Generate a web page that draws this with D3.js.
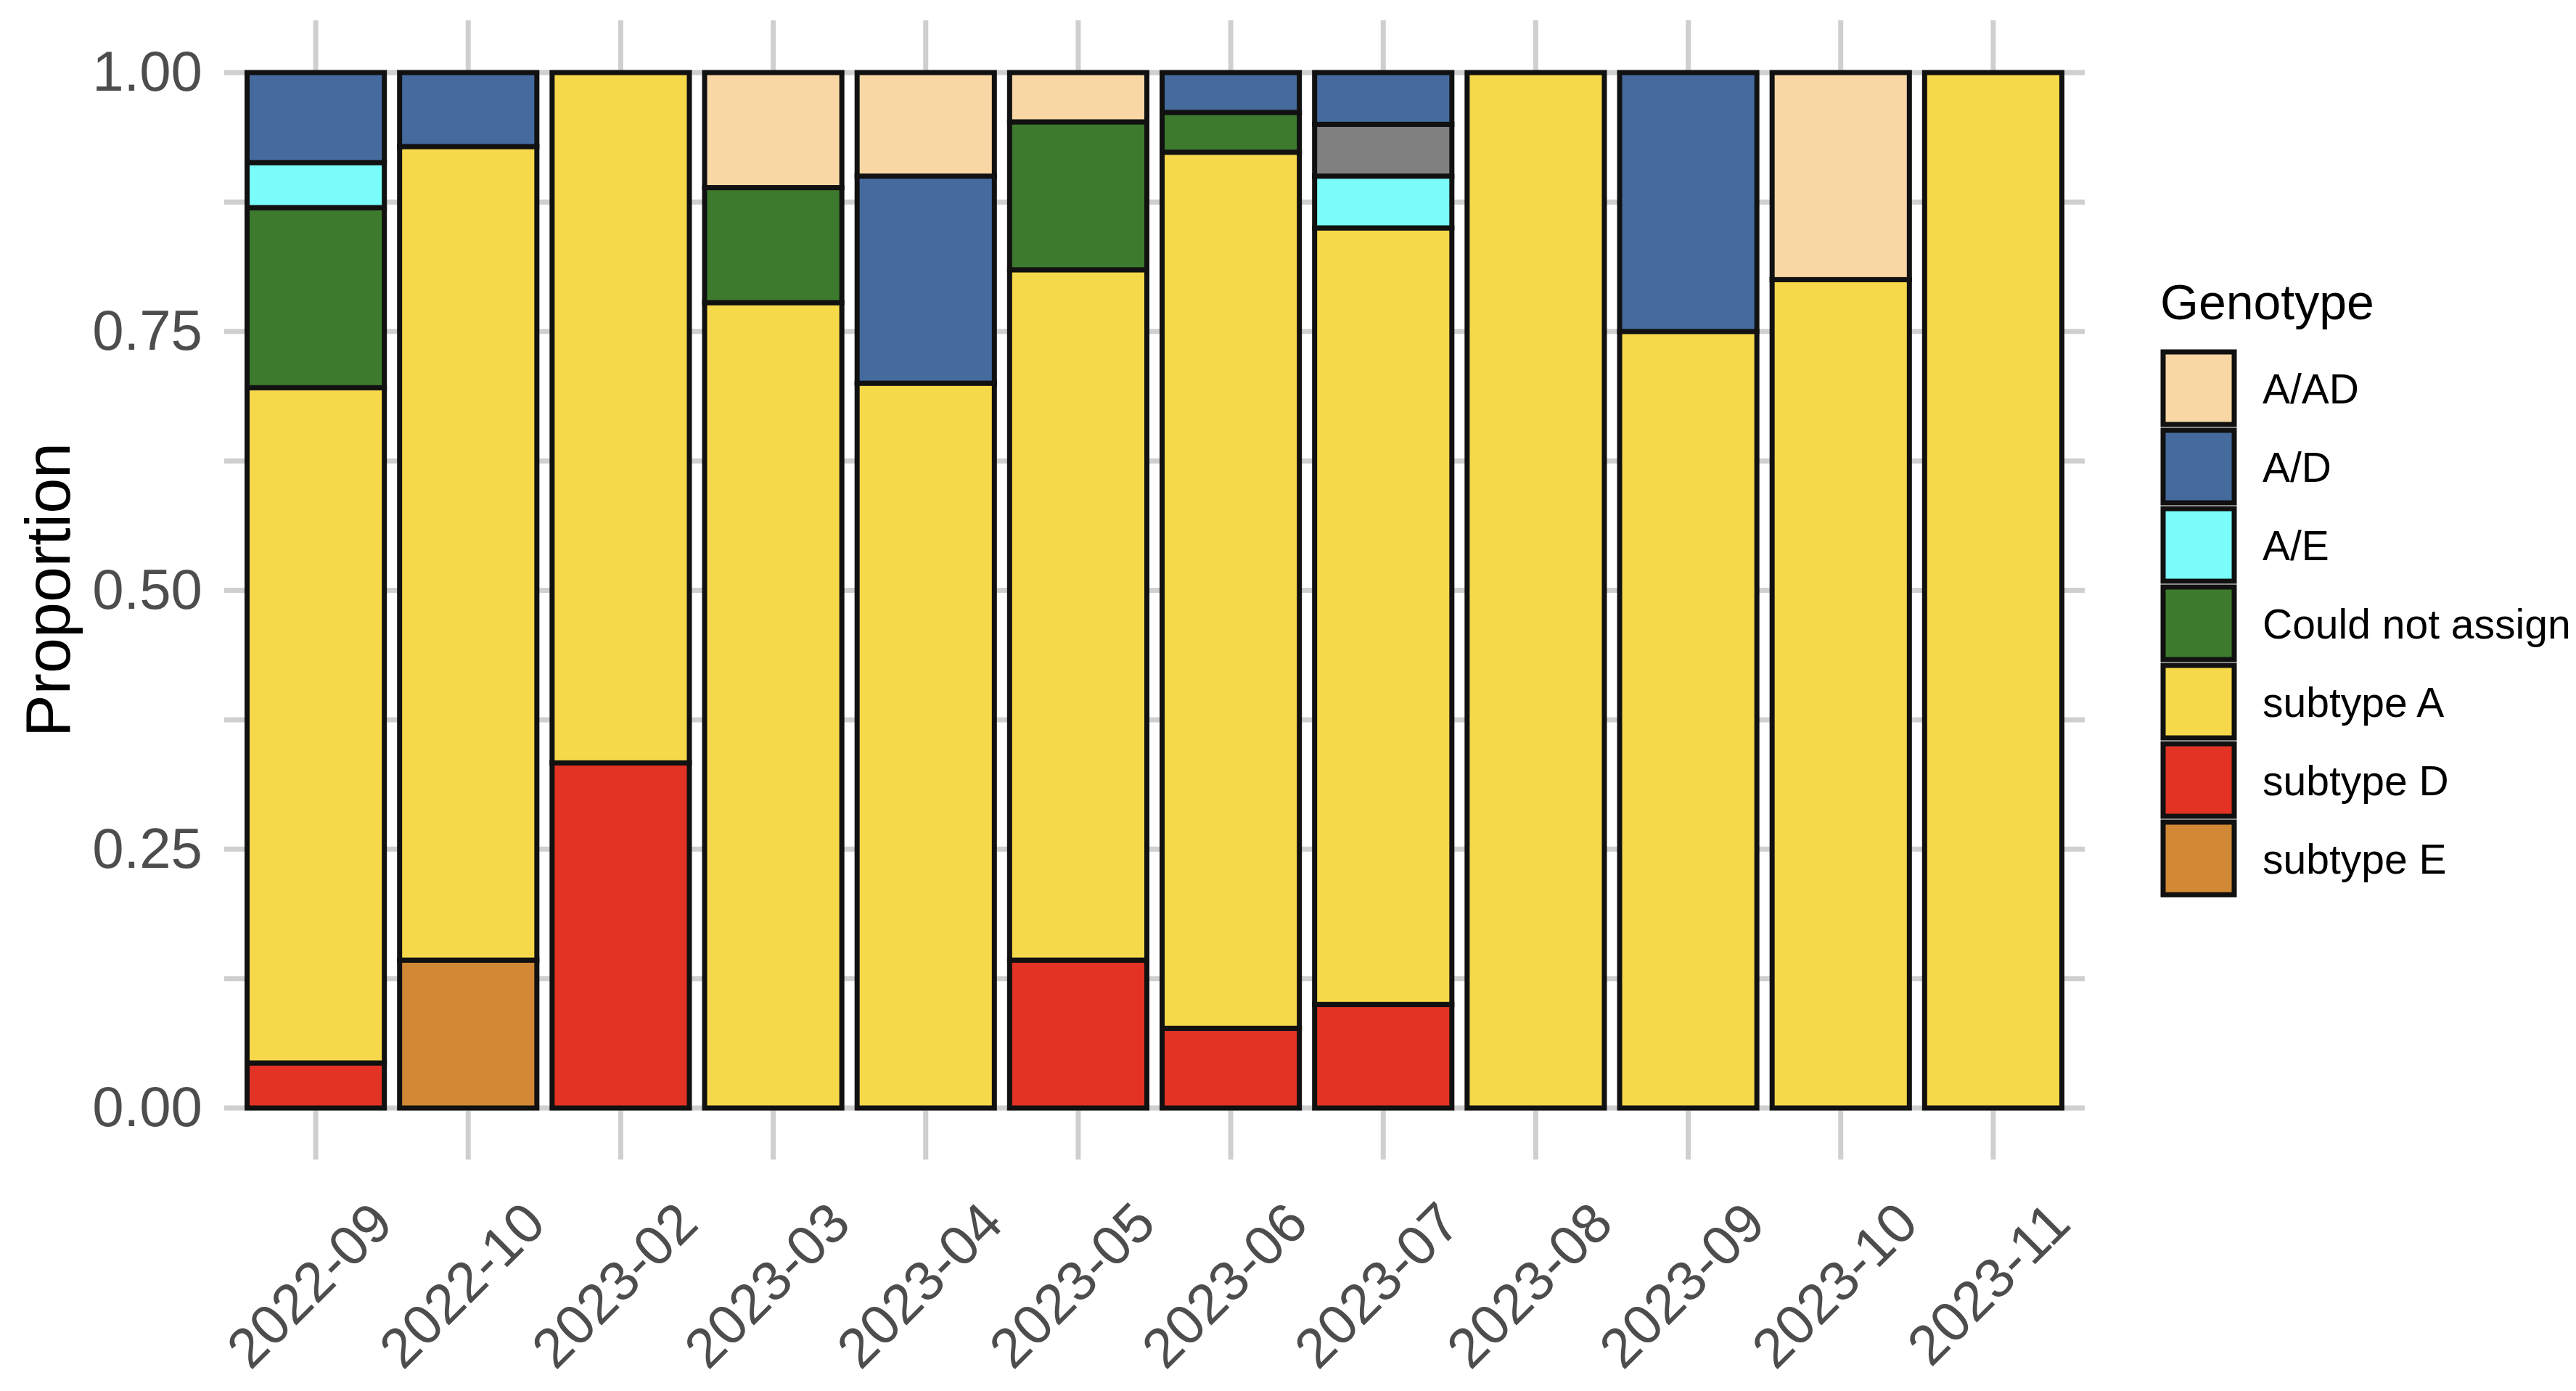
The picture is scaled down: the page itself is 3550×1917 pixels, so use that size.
<!DOCTYPE html>
<html>
<head>
  <meta charset="utf-8">
  <title>Genotype proportion by month</title>
  <style>
    body { margin: 0; background: #fff; }
    text { font-family: "Liberation Sans", Arial, Helvetica, sans-serif; }
  </style>
  <script src="https://cdn.jsdelivr.net/npm/d3@7"></script>
</head>
<body>
<script>
  // Months on the x axis
  const months = ["2022-09", "2022-10", "2023-02", "2023-03", "2023-04", "2023-05",
                  "2023-06", "2023-07", "2023-08", "2023-09", "2023-10", "2023-11"];

  const aAD       = [0, 0, 0, 1, 1, 1, 0, 0, 0, 0, 1, 0];
  const aD        = [2, 1, 0, 0, 2, 0, 1, 1, 0, 1, 0, 0];
  const unlisted  = [0, 0, 0, 0, 0, 0, 0, 1, 0, 0, 0, 0];   // grey segment, no legend entry
  const aE        = [1, 0, 0, 0, 0, 0, 0, 1, 0, 0, 0, 0];
  const couldNot  = [4, 0, 0, 1, 0, 3, 1, 0, 0, 0, 0, 0];
  const subtypeA  = [15, 11, 2, 7, 7, 14, 22, 15, 1, 3, 4, 1];
  const subtypeD  = [1, 0, 1, 0, 0, 3, 2, 2, 0, 0, 0, 0];
  const subtypeE  = [0, 2, 0, 0, 0, 0, 0, 0, 0, 0, 0, 0];

  // Legend order (top to bottom) and colours
  const legendKeys = ["A/AD", "A/D", "A/E", "Could not assign", "subtype A", "subtype D", "subtype E"];
  const colours = {
    "A/AD": "#f8d7a5",
    "A/D": "#456b9e",
    "other": "#808080",
    "A/E": "#7afcfb",
    "Could not assign": "#3d7a2d",
    "subtype A": "#f6d84b",
    "subtype D": "#e23325",
    "subtype E": "#d28935"
  };

  const yTicks = [0, 0.25, 0.5, 0.75, 1];
  const yMinor = [0.125, 0.375, 0.625, 0.875];

  // Stack order from the bottom up
  const stackKeys = ["subtype E", "subtype D", "subtype A", "Could not assign", "A/E", "other", "A/D", "A/AD"];
  const series = {
    "subtype E": subtypeE, "subtype D": subtypeD, "subtype A": subtypeA,
    "Could not assign": couldNot, "A/E": aE, "other": unlisted, "A/D": aD, "A/AD": aAD
  };
  const table = months.map((m, i) => {
    const row = {month: m};
    stackKeys.forEach(k => row[k] = series[k][i]);
    return row;
  });

  const width = 3550, height = 1917;
  const panel = {left: 309, right: 2873, top: 28, bottom: 1598};

  const svg = d3.select("body").append("svg")
      .attr("width", width)
      .attr("height", height);

  // Scales
  const x = d3.scaleBand()
      .domain(months)
      .range([panel.left, panel.right])
      .paddingInner(0.1)
      .paddingOuter(0.15);
  const y = d3.scaleLinear().domain([0, 1]).range([1527, 100]);

  // Grid lines
  const grid = svg.append("g").attr("id", "grid")
      .attr("stroke", "#cfcfcf").attr("stroke-width", 7);
  grid.selectAll(".hmajor").data(yTicks.concat(yMinor)).enter().append("line")
      .attr("x1", panel.left).attr("x2", panel.right)
      .attr("y1", d => y(d)).attr("y2", d => y(d));
  grid.selectAll(".vmajor").data(months).enter().append("line")
      .attr("x1", d => x(d) + x.bandwidth() / 2).attr("x2", d => x(d) + x.bandwidth() / 2)
      .attr("y1", panel.top).attr("y2", panel.bottom);

  // Stacked bars, normalised to proportions
  const stacked = d3.stack().keys(stackKeys).offset(d3.stackOffsetExpand)(table);

  const bars = svg.append("g").attr("id", "bars");
  stacked.forEach(layer => {
    bars.append("g")
        .attr("fill", colours[layer.key])
      .selectAll("rect")
      .data(layer.filter(d => d[1] - d[0] > 0))
      .enter().append("rect")
        .attr("x", d => x(d.data.month))
        .attr("width", x.bandwidth())
        .attr("y", d => y(d[1]))
        .attr("height", d => y(d[0]) - y(d[1]))
        .attr("stroke", "#111")
        .attr("stroke-width", 7);
  });

  // Y axis labels
  const yAxis = svg.append("g")
      .attr("transform", "translate(" + panel.left + ",0)")
      .call(d3.axisLeft(y).tickValues(yTicks).tickFormat(d3.format(".2f")).tickSize(0).tickPadding(30));
  yAxis.select(".domain").remove();
  yAxis.selectAll("text")
      .attr("fill", "#4d4d4d")
      .style("font-size", "78px");

  // X axis labels, rotated 45 degrees
  const xAxis = svg.append("g")
      .attr("transform", "translate(0," + panel.bottom + ")")
      .call(d3.axisBottom(x).tickSize(0));
  xAxis.select(".domain").remove();
  xAxis.selectAll("text")
      .attr("fill", "#4d4d4d")
      .style("font-size", "77px")
      .style("text-anchor", "end")
      .attr("x", 0).attr("y", 0).attr("dy", 0)
      .attr("transform", "translate(110,92) rotate(-45)");

  // Y axis title
  svg.append("text")
      .attr("transform", "translate(96," + ((panel.top + panel.bottom) / 2) + ") rotate(-90)")
      .style("text-anchor", "middle")
      .style("font-size", "88px")
      .attr("fill", "#000")
      .text("Proportion");

  // Legend
  const legend = svg.append("g").attr("id", "legend");
  legend.append("text")
      .attr("x", 2977).attr("y", 440)
      .style("font-size", "68px")
      .attr("fill", "#000")
      .text("Genotype");

  const keyTop = 481, keyH = 108;
  const items = legend.selectAll(".item").data(legendKeys).enter().append("g")
      .attr("transform", (d, i) => "translate(2977," + (keyTop + i * keyH) + ")");
  items.append("rect")
      .attr("x", 4).attr("y", 4)
      .attr("width", 98).attr("height", keyH - 8)
      .attr("fill", d => colours[d])
      .attr("stroke", "#111")
      .attr("stroke-width", 7);
  items.append("text")
      .attr("x", 141).attr("y", keyH / 2)
      .attr("dy", "0.36em")
      .style("font-size", "57px")
      .attr("fill", "#000")
      .text(d => d);
</script>
</body>
</html>
